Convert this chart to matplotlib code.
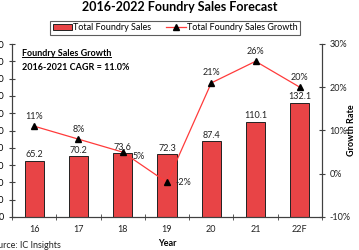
import numpy as np
import matplotlib.pyplot as plt
from matplotlib.lines import Line2D

plt.rcParams['font.family'] = ['Lato', 'DejaVu Sans']

years = ['16', '17', '18', '19', '20', '21', '22F']
sales = [65.2, 70.2, 73.6, 72.3, 87.4, 110.1, 132.1]
growth = [11, 8, 5, -2, 21, 26, 20]
growth_labels = ['11%', '8%', '5%', '-2%', '21%', '26%', '20%']

bar_color = '#E84446'
line_color = '#FF3B3B'
axis_color = '#404040'

fig = plt.figure(figsize=(3.59, 2.5), dpi=100)
ax = fig.add_axes([12 / 359, 1 - 217 / 250, (322 - 12) / 359, (217 - 44) / 250])
ax2 = ax.twinx()

x = np.arange(len(years))
ax.bar(x, sales, width=0.43, color=bar_color, edgecolor='#222222', linewidth=0.7,
       label='Total Foundry Sales', zorder=2)
for xi, v in zip(x, sales):
    ax.text(xi, v + 2, f'{v:.1f}', ha='center', va='bottom', fontsize=6.5, color='#222222')

ax.set_xlim(-0.5, len(years) - 0.5)
ax.set_ylim(0, 200)
ax.set_yticks(np.arange(0, 201, 20))
ax.set_yticklabels([str(v) for v in range(0, 201, 20)])
ax.set_xticks(x)
ax.set_xticklabels(years)
ax.set_xticks(np.arange(-0.5, len(years)), minor=True)
ax.tick_params(axis='x', which='major', length=0, labelsize=6.5, pad=6, colors='#222222')
ax.tick_params(axis='x', which='minor', length=4, direction='inout', color=axis_color)
ax.tick_params(axis='y', length=5, direction='inout', labelsize=6.5, color=axis_color, pad=3)

ax2.plot(x, growth, color=line_color, linewidth=0.9, marker='^', markersize=4,
         markerfacecolor='black', markeredgecolor='black', zorder=3)
ax2.set_ylim(-10, 30)
ax2.set_yticks([-10, 0, 10, 20, 30])
ax2.set_yticklabels(['-10%', '0%', '10%', '20%', '30%'])
ax2.tick_params(axis='y', length=5, direction='inout', labelsize=6.5, color=axis_color,
                labelcolor='#222222', pad=3)

for i, (g, lab) in enumerate(zip(growth, growth_labels)):
    if lab == '5%':
        ax2.text(i + 0.22, g - 1.0, lab, ha='left', va='center', fontsize=6.5, color='#222222')
    elif lab == '-2%':
        ax2.text(i + 0.2, g, lab, ha='left', va='center', fontsize=6.5, color='#222222')
    else:
        ax2.text(i, g + 1.3, lab, ha='center', va='bottom', fontsize=6.5, color='#222222')

for a in (ax, ax2):
    a.spines['top'].set_visible(False)
    for s in ('left', 'right', 'bottom'):
        a.spines[s].set_color(axis_color)
        a.spines[s].set_linewidth(0.8)
ax.set_zorder(ax2.get_zorder() - 1)
ax.patch.set_visible(True)
ax2.patch.set_visible(False)

ax2.set_ylabel('Growth Rate', fontsize=6.5, fontweight='bold', va='center')
ax2.yaxis.set_label_coords((352 - 12) / 310, 0.5)
ax.set_xlabel('Year', fontsize=6.5, fontweight='bold', va='top')
ax.xaxis.set_label_coords(155 / 310, -0.125)

fig.suptitle('2016-2022 Foundry Sales Forecast', x=0.5, y=0.995, fontsize=9,
             fontweight='bold', va='top')

handles = [plt.Rectangle((0, 0), 1, 1, facecolor=bar_color, edgecolor='#222222', linewidth=0.7),
           Line2D([], [], color=line_color, linewidth=0.9, marker='^', markersize=4,
                  markerfacecolor='black', markeredgecolor='black')]
leg = fig.legend(handles, ['Total Foundry Sales', 'Total Foundry Sales Growth'],
                 loc='center', bbox_to_anchor=(175 / 359, 1 - 28 / 250), ncol=2,
                 fontsize=6.5, frameon=True, fancybox=False, edgecolor='#333333',
                 handlelength=2.2, handleheight=0.6, columnspacing=1.6, borderpad=0.3,
                 handletextpad=0.1)
leg.get_frame().set_linewidth(0.8)

t1 = fig.text(22 / 359, 1 - 53 / 250, 'Foundry Sales Growth', fontsize=6.5,
              fontweight='bold', va='center', ha='left')
fig.text(22 / 359, 1 - 67 / 250, '2016-2021 CAGR = 11.0%', fontsize=6.5,
         fontweight='bold', va='center', ha='left')

fig.text(-12 / 359, 1 - 245 / 250, 'Source: IC Insights', fontsize=6.5, va='center',
         ha='left', color='#222222')

fig.canvas.draw()
bb = t1.get_window_extent().transformed(fig.transFigure.inverted())
fig.add_artist(Line2D([bb.x0, bb.x1], [bb.y0 + 0.004, bb.y0 + 0.004], color='black',
                      linewidth=0.7, transform=fig.transFigure))

fig.savefig('out.png', dpi=100)
